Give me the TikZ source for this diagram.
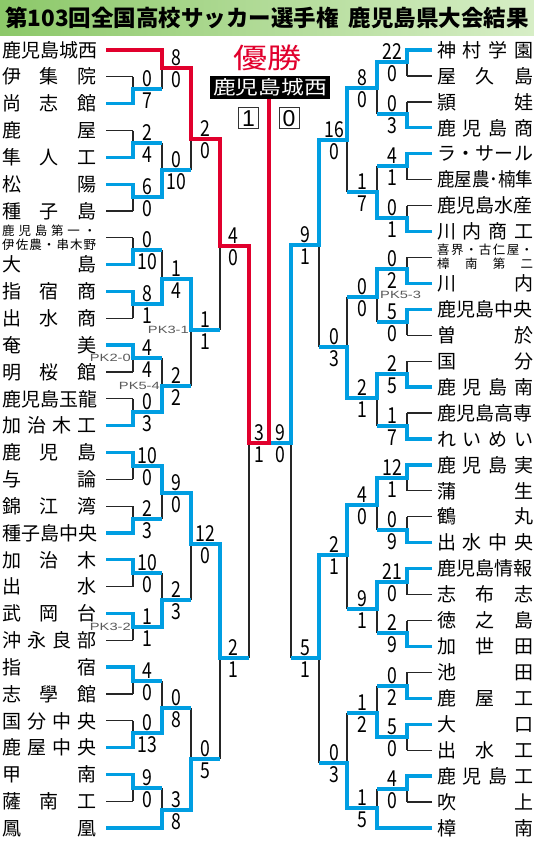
\documentclass[tikz,border=0pt]{standalone}
\usepackage{fontspec}
\newfontfamily\jp{Noto Sans CJK JP}
\newfontfamily\numf{Noto Sans CJK JP}[FakeStretch=0.8]
\newfontfamily\boxf{Liberation Sans}
\newfontfamily\pkf{Liberation Sans}[FakeStretch=1.4]
\definecolor{cblue}{RGB}{0,158,226}
\definecolor{cred}{RGB}{225,0,45}
\definecolor{gleft}{RGB}{140,200,105}
\definecolor{gright}{RGB}{215,238,198}
\tikzset{
  lose/.style={line width=1.2pt, draw=black!85},
  wblue/.style={line width=3.3pt, draw=cblue, line join=miter},
  wred/.style={line width=3.3pt, draw=cred, line join=miter},
  nameL/.style={anchor=west, inner sep=0pt, font=\jp\fontsize{19}{19}\selectfont, text height=16.7pt, text depth=2.3pt},
  smallname/.style={anchor=west, inner sep=0pt, font=\jp\fontsize{12.5}{12.5}\selectfont, text height=11pt, text depth=1.5pt},
  score/.style={inner sep=0pt, font=\numf\fontsize{22}{22}\selectfont, text height=16.1pt, text depth=0pt},
  pk/.style={inner sep=0pt, font=\pkf\fontsize{10.5}{10.5}\selectfont, text=black!65},
  finalbox/.style={draw=black!80, fill=white, line width=0.8pt, minimum width=20pt, minimum height=21pt, inner sep=0pt,
    font=\boxf\fontsize{23}{23}\selectfont, text height=16.5pt, text depth=0pt},
}
\newcommand\LN[3]{\node[nameL] (L#1) at (2,#2) {\makebox[94pt][s]{#3}};}
\newcommand\RN[3]{\node[nameL] (R#1) at (437,#2) {\makebox[96pt][s]{#3}};}
\newcommand\Sco[4]{\node[score] at (#1,#2-10.5) {#3};\node[score] at (#1,#2+11.5) {#4};}
\begin{document}
\begin{tikzpicture}[x=1pt,y=-1pt]
\useasboundingbox (0,0) rectangle (534,843);
\fill[white] (0,0) rectangle (534,843);
% title banner
\shade[left color=gleft, right color=gright] (0,0) rectangle (534,36);
\node[font=\jp\bfseries\fontsize{22.5}{24}\selectfont, text height=19.8pt, text depth=2.7pt, inner sep=0pt] (title) at (267,18)
  {第103回全国高校サッカー選手権\hspace{0.45em}鹿児島県大会結果};

% ---------- team names, left ----------
\LN{1}{50}{鹿児島城西}
\LN{2}{76.8}{伊\hfill 集\hfill 院}
\LN{3}{103.7}{尚\hfill 志\hfill 館}
\LN{4}{130.5}{鹿\hfill 屋}
\LN{5}{157.3}{隼\hfill 人\hfill 工}
\LN{6}{184.2}{松\hfill 陽}
\LN{7}{211}{種\hfill 子\hfill 島}
\node[smallname] (L8a) at (2,230.5) {\makebox[94pt][s]{鹿\hfill 児\hfill 島\hfill 第\hfill 一\hfill ・}};
\node[smallname] (L8b) at (2,245) {\makebox[94pt][s]{伊\hfill 佐\hfill 農\hfill ・\hfill 串\hfill 木\hfill 野}};
\LN{9}{264.6}{大\hfill 島}
\LN{10}{291.5}{指\hfill 宿\hfill 商}
\LN{11}{318.3}{出\hfill 水\hfill 商}
\LN{12}{345.1}{奄\hfill 美}
\LN{13}{372}{明\hfill 桜\hfill 館}
\LN{14}{398.8}{鹿児島玉龍}
\LN{15}{425.6}{加\hfill 治\hfill 木\hfill 工}
\LN{16}{452.5}{鹿\hfill 児\hfill 島}
\LN{17}{479.3}{与\hfill 論}
\LN{18}{506.1}{錦\hfill 江\hfill 湾}
\LN{19}{533}{種子島中央}
\LN{20}{559.8}{加\hfill 治\hfill 木}
\LN{21}{586.6}{出\hfill 水}
\LN{22}{613.5}{武\hfill 岡\hfill 台}
\LN{23}{640.3}{沖\hfill 永\hfill 良\hfill 部}
\LN{24}{667.1}{指\hfill 宿}
\LN{25}{693.9}{志\hfill 學\hfill 館}
\LN{26}{720.8}{国\hfill 分\hfill 中\hfill 央}
\LN{27}{747.6}{鹿\hfill 屋\hfill 中\hfill 央}
\LN{28}{774.4}{甲\hfill 南}
\LN{29}{801.3}{薩\hfill 南\hfill 工}
\LN{30}{828}{鳳\hfill 凰}

% ---------- team names, right ----------
\RN{1}{50}{神\hfill 村\hfill 学\hfill 園}
\RN{2}{75.9}{屋\hfill 久\hfill 島}
\RN{3}{101.9}{頴\hfill 娃}
\RN{4}{127.8}{鹿\hfill 児\hfill 島\hfill 商}
\RN{5}{153.7}{ラ\hfill ・\hfill サ\hfill ー\hfill ル}
\RN{6}{179.7}{\scalebox{0.92}[1]{鹿屋農･楠隼}}
\RN{7}{205.6}{鹿児島水産}
\RN{8}{231.5}{川\hfill 内\hfill 商\hfill 工}
\node[smallname] (R9a) at (437,249.5) {\makebox[96pt][s]{喜\hfill 界\hfill ・\hfill 古\hfill 仁\hfill 屋\hfill ・}};
\node[smallname] (R9b) at (437,264) {\makebox[96pt][s]{樟\hfill 南\hfill 第\hfill 二}};
\RN{10}{283.4}{川\hfill 内}
\RN{11}{309.3}{鹿児島中央}
\RN{12}{335.2}{曽\hfill 於}
\RN{13}{361.2}{国\hfill 分}
\RN{14}{387.1}{鹿\hfill 児\hfill 島\hfill 南}
\RN{15}{413}{鹿児島高専}
\RN{16}{438.9}{れ\hfill い\hfill め\hfill い}
\RN{17}{464.9}{鹿\hfill 児\hfill 島\hfill 実}
\RN{18}{490.8}{蒲\hfill 生}
\RN{19}{516.7}{鶴\hfill 丸}
\RN{20}{542.7}{出\hfill 水\hfill 中\hfill 央}
\RN{21}{568.6}{鹿児島情報}
\RN{22}{594.5}{志\hfill 布\hfill 志}
\RN{23}{620.5}{徳\hfill 之\hfill 島}
\RN{24}{646.4}{加\hfill 世\hfill 田}
\RN{25}{672.3}{池\hfill 田}
\RN{26}{698.2}{鹿\hfill 屋\hfill 工}
\RN{27}{724.2}{大\hfill 口}
\RN{28}{750.1}{出\hfill 水\hfill 工}
\RN{29}{776}{鹿\hfill 児\hfill 島\hfill 工}
\RN{30}{802}{吹\hfill 上}
\RN{31}{827.9}{樟\hfill 南}

% ---------- thin black lines, left ----------
\foreach \y in {76.8,130.5,211,237.8,318.3,372,398.8,479.3,506.1,586.6,640.3,693.9,720.8,801.3}
  \draw[lose] (106,\y) -- (133,\y);
\foreach \a/\b in {76.8/103.7,130.5/157.3,184.2/211,237.8/264.6,291.5/318.3,345.1/372,398.8/425.6,
  452.5/479.3,506.1/533,559.8/586.6,613.5/640.3,667.1/693.9,720.8/747.6,774.4/801.3}
  \draw[lose] (133,\a) -- (133,\b);
\foreach \a/\b in {50/89,143/197,250/304,358/412,466/519,573/627,681/733,788/828}
  \draw[lose] (162,\a) -- (162,\b);
\foreach \a/\b in {68/170,279/386,493/600,708/810}
  \draw[lose] (191,\a) -- (191,\b);
\foreach \a/\b in {139/330,544/759}
  \draw[lose] (220,\a) -- (220,\b);
\draw[lose] (249,246) -- (249,658);

% ---------- thin black lines, right ----------
\foreach \y in {75.9,101.9,179.7,205.6,257.4,335.2,361.2,413,490.8,516.7,594.5,620.5,672.3,750.1,802}
  \draw[lose] (432,\y) -- (407,\y);
\foreach \a/\b in {50/75.9,101.9/127.8,153.7/179.7,205.6/231.5,257.4/283.4,309.3/335.2,361.2/387.1,413/438.9,
  464.9/490.8,516.7/542.7,568.6/594.5,620.5/646.4,672.3/698.2,724.2/750.1,776/802}
  \draw[lose] (407,\a) -- (407,\b);
\foreach \a/\b in {62/114,166/218,269/322,374/426,478/530,582/633,686/737,789/827.9}
  \draw[lose] (377,\a) -- (377,\b);
\foreach \a/\b in {88/192,297/398,505/609,713/808}
  \draw[lose] (347,\a) -- (347,\b);
\foreach \a/\b in {140/347,555/763}
  \draw[lose] (319,\a) -- (319,\b);
\draw[lose] (291,245) -- (291,658);

% ---------- winners, left (blue) ----------
\draw[wblue] (106,103.7) -- (133,103.7) -- (133,89) -- (162,89);
\draw[wblue] (106,157.3) -- (133,157.3) -- (133,143) -- (162,143);
\draw[wblue] (106,184.2) -- (133,184.2) -- (133,197) -- (162,197) -- (162,170) -- (191,170);
\draw[wblue] (106,264.6) -- (133,264.6) -- (133,250) -- (162,250);
\draw[wblue] (106,291.5) -- (133,291.5) -- (133,304) -- (162,304) -- (162,279) -- (191,279) -- (191,330) -- (220,330);
\draw[wblue] (106,345.1) -- (133,345.1) -- (133,358) -- (162,358);
\draw[wblue] (106,425.6) -- (133,425.6) -- (133,412) -- (162,412) -- (162,386) -- (191,386);
\draw[wblue] (106,452.5) -- (133,452.5) -- (133,466) -- (162,466) -- (162,493) -- (191,493) -- (191,544) -- (220,544) -- (220,658) -- (249,658);
\draw[wblue] (106,533) -- (133,533) -- (133,519) -- (162,519);
\draw[wblue] (106,559.8) -- (133,559.8) -- (133,573) -- (162,573);
\draw[wblue] (106,613.5) -- (133,613.5) -- (133,627) -- (162,627) -- (162,600) -- (191,600);
\draw[wblue] (106,667.1) -- (133,667.1) -- (133,681) -- (162,681);
\draw[wblue] (106,747.6) -- (133,747.6) -- (133,733) -- (162,733) -- (162,708) -- (191,708);
\draw[wblue] (106,774.4) -- (133,774.4) -- (133,788) -- (162,788);
\draw[wblue] (106,828) -- (162,828) -- (162,810) -- (191,810) -- (191,759) -- (220,759);

% ---------- winners, right (blue) ----------
\draw[wblue] (432,50) -- (407,50) -- (407,62) -- (377,62) -- (377,88) -- (347,88) -- (347,140) -- (319,140) -- (319,245) -- (291,245) -- (291,443) -- (269,443);
\draw[wblue] (432,127.8) -- (407,127.8) -- (407,114) -- (377,114);
\draw[wblue] (432,153.7) -- (407,153.7) -- (407,166) -- (377,166);
\draw[wblue] (432,231.5) -- (407,231.5) -- (407,218) -- (377,218) -- (377,192) -- (347,192);
\draw[wblue] (432,283.4) -- (407,283.4) -- (407,269) -- (377,269) -- (377,297) -- (347,297);
\draw[wblue] (432,309.3) -- (407,309.3) -- (407,322) -- (377,322);
\draw[wblue] (432,387.1) -- (407,387.1) -- (407,374) -- (377,374) -- (377,398) -- (347,398) -- (347,347) -- (319,347);
\draw[wblue] (432,438.9) -- (407,438.9) -- (407,426) -- (377,426);
\draw[wblue] (432,464.9) -- (407,464.9) -- (407,478) -- (377,478) -- (377,505) -- (347,505) -- (347,555) -- (319,555) -- (319,658) -- (291,658);
\draw[wblue] (432,542.7) -- (407,542.7) -- (407,530) -- (377,530);
\draw[wblue] (432,568.6) -- (407,568.6) -- (407,582) -- (377,582) -- (377,609) -- (347,609);
\draw[wblue] (432,646.4) -- (407,646.4) -- (407,633) -- (377,633);
\draw[wblue] (432,698.2) -- (407,698.2) -- (407,686) -- (377,686);
\draw[wblue] (432,724.2) -- (407,724.2) -- (407,737) -- (377,737) -- (377,713) -- (347,713);
\draw[wblue] (432,776) -- (407,776) -- (407,789) -- (377,789);
\draw[wblue] (432,827.9) -- (377,827.9) -- (377,808) -- (347,808) -- (347,763) -- (319,763);

% ---------- champion (red) ----------
\node[fill=black, text=white, font=\jp\fontsize{19}{20}\selectfont, minimum width=120pt, minimum height=23pt, inner sep=0pt] (champ) at (270,87.5) {\scalebox{1.2}[1]{鹿児島城西}};
\draw[wred] (106,50) -- (162,50) -- (162,68) -- (191,68) -- (191,139) -- (220,139) -- (220,246) -- (249,246) -- (249,443) -- (269,443) -- (269,99);
\node[font=\jp\fontsize{28}{30}\selectfont, text=cred, inner sep=0pt] (yusho) at (267.5,57.5) {\scalebox{1.22}[1]{優勝}};
\node[finalbox] (f1) at (248.5,118) {1};
\node[finalbox] (f0) at (289,118) {0};

% ---------- scores, left ----------
\Sco{147}{89}{0}{7}   \Sco{147}{143}{2}{4}  \Sco{147}{197}{6}{0}  \Sco{147}{250}{0}{10}
\Sco{147}{304}{8}{1}  \Sco{147}{358}{4}{4}  \Sco{147}{412}{0}{3}  \Sco{147}{466}{10}{0}
\Sco{147}{519}{2}{3}  \Sco{147}{573}{10}{0} \Sco{147}{627}{1}{1}  \Sco{147}{681}{4}{0}
\Sco{147}{733}{0}{13} \Sco{147}{788}{9}{0}
\Sco{176}{68}{8}{0}   \Sco{176}{170}{0}{10} \Sco{176}{279}{1}{4}  \Sco{176}{386}{2}{2}
\Sco{176}{493}{9}{0}  \Sco{176}{600}{2}{3}  \Sco{176}{708}{0}{8}  \Sco{176}{810}{3}{8}
\Sco{205}{139}{2}{0}  \Sco{205}{330}{1}{1}  \Sco{205}{544}{12}{0} \Sco{205}{759}{0}{5}
\Sco{233}{246}{4}{0}  \Sco{233}{658}{2}{1}
\Sco{259}{443}{3}{1}

% ---------- scores, right ----------
\Sco{392}{62}{22}{0}  \Sco{392}{114}{0}{3}  \Sco{392}{166}{4}{1}  \Sco{392}{218}{0}{1}
\Sco{392}{269}{0}{2}  \Sco{392}{322}{5}{0}  \Sco{392}{374}{2}{5}  \Sco{392}{426}{1}{7}
\Sco{392}{478}{12}{1} \Sco{392}{530}{0}{9}  \Sco{392}{582}{21}{0} \Sco{392}{633}{2}{9}
\Sco{392}{686}{0}{2}  \Sco{392}{737}{5}{0}  \Sco{392}{789}{4}{0}
\Sco{362}{88}{8}{0}   \Sco{362}{192}{1}{7}  \Sco{362}{297}{0}{0}  \Sco{362}{398}{2}{1}
\Sco{362}{505}{4}{0}  \Sco{362}{609}{9}{1}  \Sco{362}{713}{1}{2}  \Sco{362}{808}{1}{5}
\Sco{334}{140}{16}{0} \Sco{334}{347}{0}{3}  \Sco{334}{555}{2}{1}  \Sco{334}{763}{0}{3}
\Sco{305}{245}{9}{1}  \Sco{305}{658}{5}{1}
\Sco{280}{443}{9}{0}

% ---------- penalty labels ----------
\node[pk, anchor=east] (pkA) at (131,358) {PK2-0};
\node[pk, anchor=east] (pkB) at (160,386) {PK5-4};
\node[pk, anchor=east] (pkC) at (189,330) {PK3-1};
\node[pk, anchor=east] (pkD) at (131,627) {PK3-2};
\node[pk, anchor=west] (pkE) at (380,295) {PK5-3};
\end{tikzpicture}
\end{document}
